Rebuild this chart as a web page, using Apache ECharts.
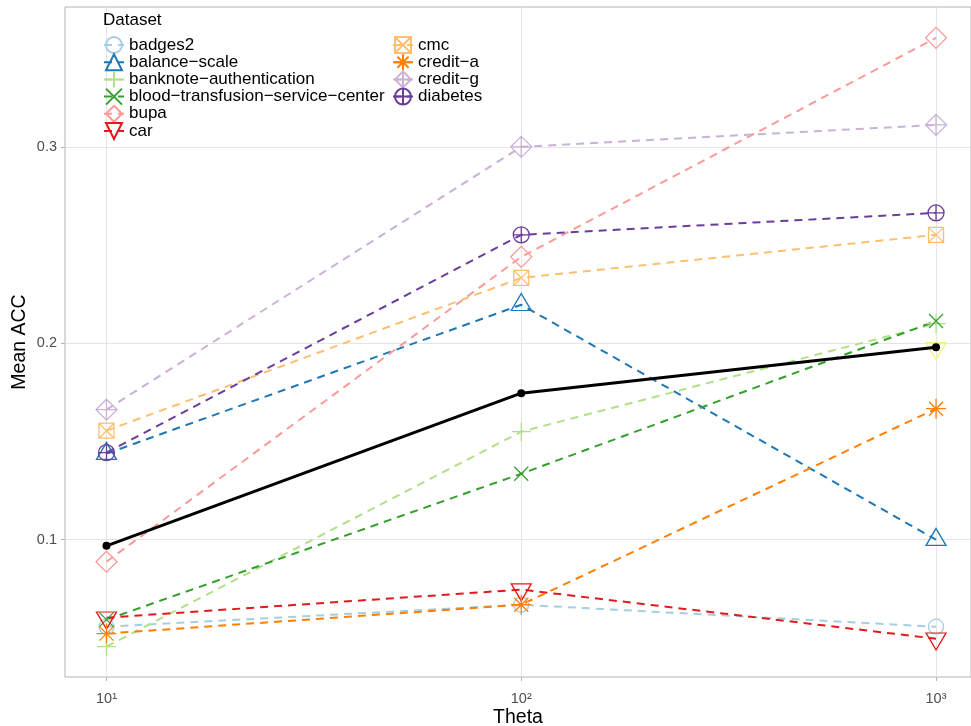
<!DOCTYPE html>
<html><head><meta charset="utf-8">
<script src="https://cdn.jsdelivr.net/npm/echarts@6/dist/echarts.min.js"></script>
<style>html,body{margin:0;padding:0;background:#fff}#c{width:971px;height:726px}</style>
</head><body><div id="c"></div>
<script>
// ---- data ----
const theta = [10, 100, 1000];
const datasetNames = ['badges2','balance-scale','banknote-authentication','blood-transfusion-service-center','bupa','car','cmc','credit-a','credit-g','diabetes'];
const badges2 = [0.0557, 0.0669, 0.0557];
const balanceScale = [0.1438, 0.2196, 0.1000];
const banknote = [0.0456, 0.1550, 0.2100];
const blood = [0.0593, 0.1336, 0.2113];
const bupa = [0.0888, 0.2440, 0.3555];
const car = [0.0603, 0.0746, 0.0496];
const cmc = [0.1555, 0.2333, 0.2552];
const creditA = [0.0522, 0.0669, 0.1667];
const creditG = [0.1662, 0.3000, 0.3112];
const diabetes = [0.1443, 0.2552, 0.2664];
const extraTheta = [1000];
const extraVals = [0.1975];
const meanVals = [0.0969, 0.1746, 0.1980];
const yTickValues = [0.1, 0.2, 0.3];
const xTickTheta = [10, 100, 1000];
const xTickLabels = ['10\u00b9', '10\u00b2', '10\u00b3'];

const seriesValues = [badges2, balanceScale, banknote, blood, bupa, car, cmc, creditA, creditG, diabetes];
const colors = ['#A6CEE3','#1F78B4','#B2DF8A','#33A02C','#FB9A99','#E31A1C','#FDBF6F','#FF7F00','#CAB2D6','#6A3D9A'];
const TRI_UP = 'path://M5,0 L10,8.66 L0,8.66 Z';
const TRI_DOWN = 'path://M0,0 L10,0 L5,8.66 Z';
const CIRCLE = 'path://M0,5 A5,5 0 1,1 10,5 A5,5 0 1,1 0,5 Z';
const symbols = [
  {s: CIRCLE, size: 15},
  {s: TRI_UP, size: [20, 17], off: [0, -2.8]},
  {s: 'path://M0,5 L10,5 M5,0 L5,10', size: 19},
  {s: 'path://M0,0 L10,10 M10,0 L0,10', size: 14},
  {s: 'path://M5,0 L10,5 L5,10 L0,5 Z', size: 21},
  {s: TRI_DOWN, size: [20, 17], off: [0, 2.8]},
  {s: 'path://M0,0 L10,0 L10,10 L0,10 Z M0,0 L10,10 M10,0 L0,10', size: 15},
  {s: 'path://M0,5 L10,5 M5,0 L5,10 M1.5,1.5 L8.5,8.5 M8.5,1.5 L1.5,8.5', size: 20},
  {s: 'path://M5,0 L10,5 L5,10 L0,5 Z M0,5 L10,5 M5,0 L5,10', size: 21},
  {s: 'path://M0,5 A5,5 0 1,1 10,5 A5,5 0 1,1 0,5 Z M0,5 L10,5 M5,0 L5,10', size: 16}
];

const lg = v => Math.log10(v);
const pairs = (xs, ys) => xs.map((t, i) => [lg(t), ys[i]]);

const series = datasetNames.map((name, k) => ({
  name: name,
  type: 'line',
  data: pairs(theta, seriesValues[k]),
  symbol: symbols[k].s,
  symbolSize: symbols[k].size,
  symbolOffset: symbols[k].off || [0, 0],
  showAllSymbol: true,
  lineStyle: {color: colors[k], width: 2, type: [8, 6]},
  itemStyle: {color: 'rgba(0,0,0,0)', borderColor: colors[k], borderWidth: 1.3},
  emphasis: {disabled: true},
  animation: false,
  z: 2
}));
series.push({
  name: 'other',
  type: 'line',
  data: pairs(extraTheta, extraVals),
  symbol: TRI_DOWN, symbolSize: [20, 17], symbolOffset: [0, 2.8],
  lineStyle: {color: '#FFFF99', width: 2, type: [8, 6]},
  itemStyle: {color: 'rgba(0,0,0,0)', borderColor: '#F5F57A', borderWidth: 1.3},
  emphasis: {disabled: true}, animation: false, z: 2
});
series.push({
  name: 'mean',
  type: 'line',
  data: pairs(theta, meanVals),
  symbol: 'circle', symbolSize: 8,
  lineStyle: {color: '#000', width: 3},
  itemStyle: {color: '#000'},
  emphasis: {disabled: true}, animation: false, z: 5
});

const legendCommon = {
  orient: 'vertical', itemGap: -0.8, itemWidth: 20, itemHeight: 20,
  textStyle: {fontFamily: 'Liberation Sans', fontSize: 17, color: '#000', lineHeight: 17},
  formatter: n => n.replace(/-/g, '\u2212'),
  selectedMode: false, top: 31
};

const chart = echarts.init(document.getElementById('c'), null, {renderer: 'canvas'});
chart.setOption({
  backgroundColor: '#fff',
  animation: false,
  textStyle: {fontFamily: 'Liberation Sans'},
  title: {text: 'Dataset', left: 98, top: 7, textStyle: {fontFamily: 'Liberation Sans', fontSize: 17, fontWeight: 'normal', color: '#000'}},
  legend: [
    Object.assign({}, legendCommon, {left: 98, data: datasetNames.slice(0, 6)}),
    Object.assign({}, legendCommon, {left: 387, data: datasetNames.slice(6)})
  ],
  grid: {left: 65, top: 7, bottom: 49, right: 0, show: true, borderColor: '#b3b3b3', borderWidth: 1, containLabel: false, outerBoundsMode: 'none'},
  xAxis: {
    type: 'value', min: 0.9, max: 3.0843, splitNumber: 4,
    name: 'Theta', nameLocation: 'middle', nameGap: 31, nameMoveOverlap: false,
    nameTextStyle: {fontFamily: 'Liberation Sans', fontSize: 19.5, color: '#000'},
    axisLine: {show: false},
    axisTick: {show: true, length: 4, lineStyle: {color: '#b3b3b3'}, customValues: xTickTheta.map(lg)},
    axisLabel: {customValues: xTickTheta.map(lg), margin: 14, fontSize: 14.5, color: '#4d4d4d',
      formatter: v => { const i = xTickTheta.findIndex(t => Math.abs(lg(t) - v) < 1e-6); return i >= 0 ? xTickLabels[i] : ''; }},
    splitLine: {show: true, lineStyle: {color: '#e5e5e5', width: 1}}
  },
  yAxis: {
    type: 'value', min: 0.0301, max: 0.3712, splitNumber: 7,
    name: 'Mean ACC', nameLocation: 'middle', nameGap: 35, nameRotate: 90, nameMoveOverlap: false,
    nameTextStyle: {fontFamily: 'Liberation Sans', fontSize: 19.5, color: '#000'},
    axisLine: {show: false},
    axisTick: {show: true, length: 4, lineStyle: {color: '#b3b3b3'}, customValues: yTickValues},
    axisLabel: {customValues: yTickValues, margin: 8, fontSize: 14.5, color: '#4d4d4d', formatter: v => v.toFixed(1)},
    splitLine: {show: true, lineStyle: {color: '#e5e5e5', width: 1}}
  },
  series: series
});
</script></body></html>
